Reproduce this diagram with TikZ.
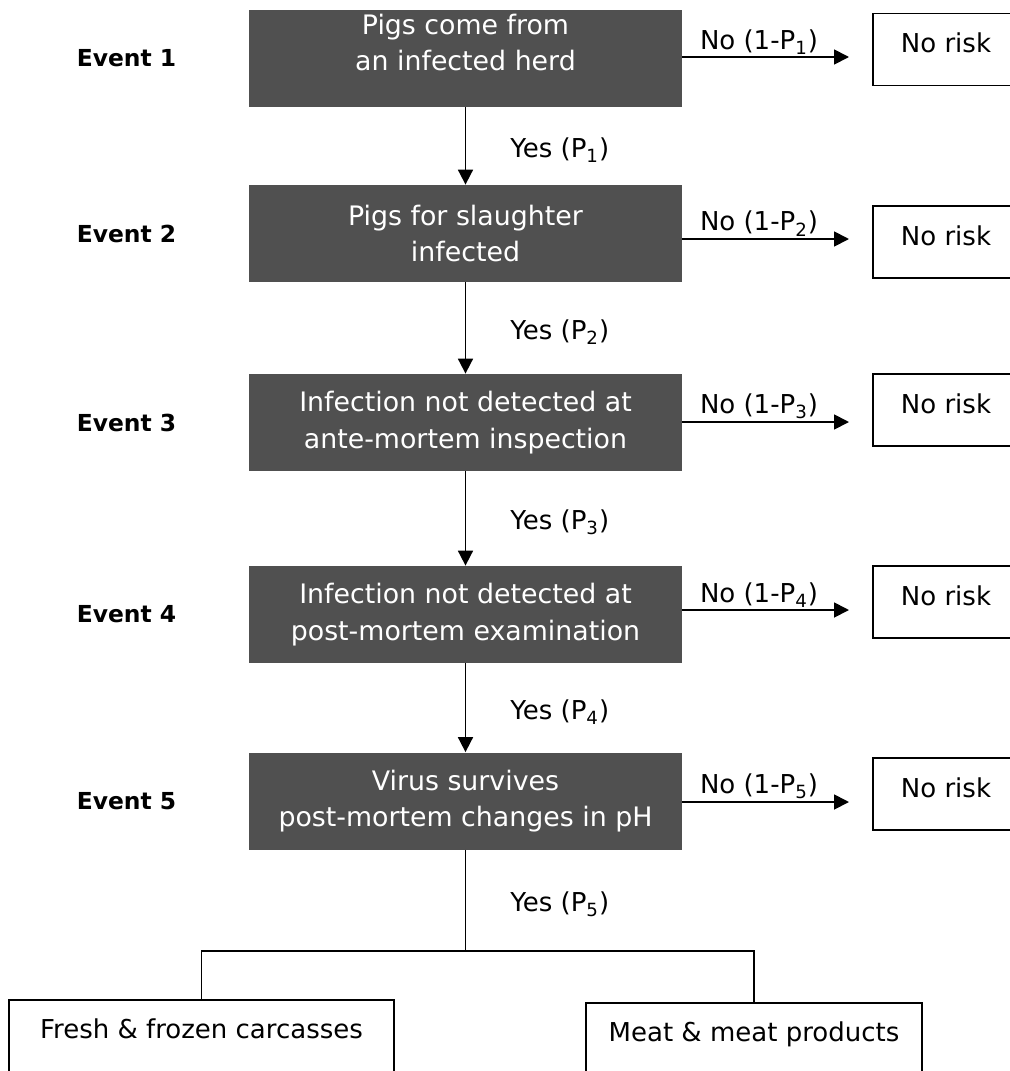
\documentclass[tikz,border=0pt]{standalone}
\usepackage{fontspec}
\setmainfont{DejaVu Sans}
\usetikzlibrary{arrows.meta,positioning}
\definecolor{eventgray}{RGB}{80,80,80}

\begin{document}
\begin{tikzpicture}[x=0.5pt,y=-0.5pt,
    event/.style={fill=eventgray, text=white, minimum width=216.5pt, minimum height=48.5pt,
      inner sep=0pt, align=center, font=\fontsize{13.4}{18.3}\selectfont},
    evlabel/.style={inner sep=0pt, font=\fontsize{11.7}{14}\selectfont\bfseries},
    norisk/.style={draw, line width=0.8pt, minimum width=73pt, minimum height=36pt,
      inner sep=0pt, text depth=6.5pt, font=\fontsize{13}{16}\selectfont},
    outcome/.style={draw, line width=0.8pt, inner sep=0pt, anchor=north,
      text height=19.5pt, text depth=30pt, font=\fontsize{13}{16}\selectfont},
    flow/.style={line width=0.9pt, -{Triangle[width=7.5pt,length=7.5pt]}},
    link/.style={line width=0.9pt},
    nolbl/.style={pos=0.46, above, inner sep=1pt, font=\fontsize{13}{16}\selectfont},
    yeslbl/.style={pos=0.5, anchor=west, inner sep=0pt, xshift=22pt, yshift=-2pt,
      font=\fontsize{13}{16}\selectfont}]
    \path[use as bounding box] (0,0) rectangle (1010,1071);
    \clip (0,0) rectangle (1010,1071);
    % event boxes
    \node[event] (e1) at (465.5,58.5) {Pigs come from\\an infected herd\rule[-16pt]{0pt}{16pt}};
    \node[event] (e2) at (465.5,233.5) {Pigs for slaughter\\infected};
    \node[event] (e3) at (465.5,422.5) {Infection not detected at\\ante-mortem inspection};
    \node[event] (e4) at (465.5,614.5) {Infection not detected at\\post-mortem examination};
    \node[event] (e5) at (465.5,801) {Virus survives\\post-mortem changes in pH};
    \node[evlabel, left=36pt of e1] (ev1) {Event 1};
    \node[evlabel, left=36pt of e2] (ev2) {Event 2};
    \node[evlabel, left=36pt of e3] (ev3) {Event 3};
    \node[evlabel, left=36pt of e4] (ev4) {Event 4};
    \node[evlabel, left=36pt of e5] (ev5) {Event 5};
    % no risk side
    \node[norisk] (r1) at (946,49.5) {No risk};
    \node[norisk] (r2) at (946,242) {No risk};
    \node[norisk] (r3) at (946,410) {No risk};
    \node[norisk] (r4) at (946,602) {No risk};
    \node[norisk] (r5) at (946,794) {No risk};
    \coordinate (n1) at (849,57);
    \coordinate (n2) at (849,239);
    \coordinate (n3) at (849,422);
    \coordinate (n4) at (849,610);
    \coordinate (n5) at (849,802);
    \draw[flow] (e1.east |- n1) -- (n1) node[nolbl] {No (1-P\textsubscript{1})};
    \draw[flow] (e2.east |- n2) -- (n2) node[nolbl] {No (1-P\textsubscript{2})};
    \draw[flow] (e3.east |- n3) -- (n3) node[nolbl] {No (1-P\textsubscript{3})};
    \draw[flow] (e4.east |- n4) -- (n4) node[nolbl] {No (1-P\textsubscript{4})};
    \draw[flow] (e5.east |- n5) -- (n5) node[nolbl] {No (1-P\textsubscript{5})};
    % yes branch
    \draw[flow] (e1) -- (e2) node[yeslbl] {Yes (P\textsubscript{1})};
    \draw[flow] (e2) -- (e3) node[yeslbl] {Yes (P\textsubscript{2})};
    \draw[flow] (e3) -- (e4) node[yeslbl] {Yes (P\textsubscript{3})};
    \draw[flow] (e4) -- (e5) node[yeslbl] {Yes (P\textsubscript{4})};
    % products
    \coordinate (split) at (465.5,951);
    \node[outcome, minimum width=192.5pt] (fresh) at (201.5,999) {Fresh \& frozen carcasses};
    \node[outcome, minimum width=168pt] (meat) at (754,1002) {Meat \& meat products};
    \draw[link] (e5) -- (split) node[yeslbl] {Yes (P\textsubscript{5})};
    \draw[link] (fresh.north) |- (split) -| (meat.north);
\end{tikzpicture}
\end{document}
